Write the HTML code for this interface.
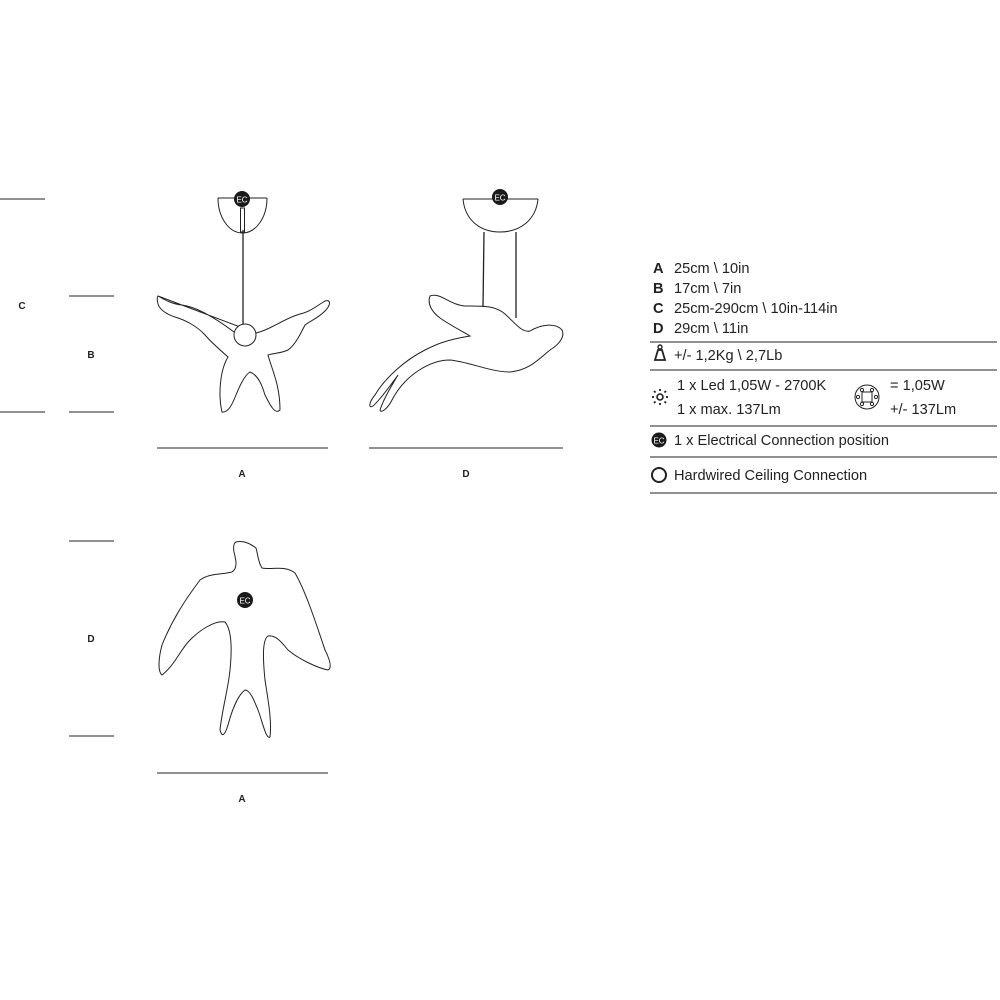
<!DOCTYPE html>
<html><head><meta charset="utf-8"><style>
html,body{margin:0;padding:0;background:#fff;}
svg{display:block;}
text{font-family:"Liberation Sans",sans-serif;fill:#222;}
.b{font-weight:bold;font-size:10px;}
.t{font-size:14.6px;}
</style></head><body>
<svg width="1000" height="1000" viewBox="0 0 1000 1000" xmlns="http://www.w3.org/2000/svg">
<g stroke="#222" stroke-width="1" fill="none">
<line x1="0" y1="199" x2="45" y2="199"/>
<line x1="0" y1="412" x2="45" y2="412"/>
<line x1="69" y1="296" x2="114" y2="296"/>
<line x1="69" y1="412" x2="114" y2="412"/>
<line x1="69" y1="541" x2="114" y2="541"/>
<line x1="69" y1="736" x2="114" y2="736"/>
<line x1="157" y1="448" x2="328" y2="448"/>
<line x1="369" y1="448" x2="563" y2="448"/>
<line x1="157" y1="773" x2="328" y2="773"/>

<!-- front view -->
<line x1="218" y1="198" x2="267" y2="198"/>
<path d="M218,198 A24.5,35 0 0 0 267,198"/>
<rect x="240.5" y="208" width="4" height="24" fill="#fff"/>
<line x1="243" y1="230" x2="243" y2="325" stroke-width="1.3"/>
<path d="M158,296 C165,300 172,304 182,305 C198,307 218,320 234,332 M256,333 C270,330 285,318 300,314 C310,312 318,305 325,301 C331,299 331,305 325,311 C318,318 312,320 305,325 C300,335 295,345 288,350 C282,353 275,353 268,355 C272,370 280,385 280,410 C275,415 270,405 265,395 C262,385 258,375 250,372 C245,375 240,385 236,395 C232,405 228,413 222,412 C218,395 220,370 228,357 C220,350 212,343 205,335 C197,326 185,320 175,317 C166,314 160,310 158,304 C157,300 157,297 158,296 Z"/>
<circle cx="245" cy="335" r="11" fill="#fff"/>

<!-- side view -->
<line x1="463" y1="199" x2="538" y2="199"/>
<path d="M463,199 C465,220 480,232 500,232 C520,232 536,220 538,199"/>
<line x1="484" y1="232" x2="483" y2="307" stroke-width="1.3"/>
<line x1="516" y1="232" x2="516" y2="318" stroke-width="1.3"/>
<path d="M430,296 C440,292 450,305 465,306 C480,306 495,305 505,314 C515,323 522,333 530,331 C540,325 555,322 562,330 C565,336 560,344 550,350 C540,358 530,370 510,372 C490,372 470,362 450,360 C430,360 405,375 392,400 C388,408 381,414 380,410 C384,398 392,385 398,375 C390,386 380,400 373,406 C368,409 369,402 375,395 C385,378 405,360 425,350 C435,345 445,340 470,336 C460,330 450,325 440,318 C432,312 427,304 430,296 Z"/>

<!-- top view -->
<path d="M236,542 C245,540 252,545 256,548 C258,555 258,562 262,568 C272,570 285,565 295,573 C305,590 315,620 325,650 C330,660 332,668 328,670 C318,668 300,660 288,650 C280,640 275,635 268,636 C262,640 263,660 265,680 C268,700 272,720 270,737 C266,740 262,720 258,710 C254,700 250,690 245,690 C238,695 232,710 228,725 C225,735 222,738 220,730 C222,710 228,690 230,670 C232,650 232,630 225,622 C215,620 200,630 190,640 C180,650 175,665 162,675 C158,672 158,660 162,645 C172,620 185,600 200,580 C210,573 220,575 232,572 C238,568 236,560 234,552 C233,546 234,543 236,542 Z"/>

<line x1="650" y1="342" x2="997" y2="342"/>
<line x1="650" y1="370" x2="997" y2="370"/>
<line x1="650" y1="426" x2="997" y2="426"/>
<line x1="650" y1="457" x2="997" y2="457"/>
<line x1="650" y1="493" x2="997" y2="493"/>
<circle cx="659" cy="475" r="7" stroke-width="2"/>
<path d="M655,360 L658,350 L662,350 L665,360 Z" stroke-width="1.8"/>
<circle cx="660" cy="347" r="2" stroke-width="1.4"/>
<circle cx="660" cy="397" r="3" stroke-width="1.6"/>
<g stroke-width="1.8">
<line x1="660" y1="389" x2="660" y2="391"/><line x1="660" y1="403" x2="660" y2="405"/>
<line x1="652" y1="397" x2="654" y2="397"/><line x1="666" y1="397" x2="668" y2="397"/>
<line x1="654" y1="391" x2="655.5" y2="392.5"/><line x1="666" y1="391" x2="664.5" y2="392.5"/>
<line x1="654" y1="403" x2="655.5" y2="401.5"/><line x1="666" y1="403" x2="664.5" y2="401.5"/>
</g>
<circle cx="867" cy="397" r="12"/>
<rect x="862" y="392" width="10" height="10"/>
<circle cx="862" cy="390" r="1.6"/><circle cx="872" cy="390" r="1.6"/>
<circle cx="862" cy="404" r="1.6"/><circle cx="872" cy="404" r="1.6"/>
<circle cx="858" cy="397" r="1.6"/><circle cx="876" cy="397" r="1.6"/>
</g>
<g>
<circle cx="242" cy="199" r="8" fill="#1a1a1a"/><text x="242" y="202.5" font-size="8" text-anchor="middle" style="fill:#fff">EC</text>
<circle cx="500" cy="197" r="8" fill="#1a1a1a"/><text x="500" y="200.5" font-size="8" text-anchor="middle" style="fill:#fff">EC</text>
<circle cx="245" cy="600" r="8" fill="#1a1a1a"/><text x="245" y="603.5" font-size="8" text-anchor="middle" style="fill:#fff">EC</text>
<circle cx="659" cy="440" r="7.5" fill="#1a1a1a"/><text x="659" y="443.5" font-size="8" text-anchor="middle" style="fill:#fff">EC</text>
</g>
<text class="b" x="22" y="309" text-anchor="middle">C</text>
<text class="b" x="91" y="358" text-anchor="middle">B</text>
<text class="b" x="91" y="642" text-anchor="middle">D</text>
<text class="b" x="242" y="477" text-anchor="middle">A</text>
<text class="b" x="466" y="477" text-anchor="middle">D</text>
<text class="b" x="242" y="802" text-anchor="middle">A</text>
<text class="t" x="653" y="273" font-weight="bold">A</text><text class="t" x="674" y="273">25cm \ 10in</text>
<text class="t" x="653" y="293" font-weight="bold">B</text><text class="t" x="674" y="293">17cm \ 7in</text>
<text class="t" x="653" y="313" font-weight="bold">C</text><text class="t" x="674" y="313">25cm-290cm \ 10in-114in</text>
<text class="t" x="653" y="333" font-weight="bold">D</text><text class="t" x="674" y="333">29cm \ 11in</text>
<text class="t" x="674" y="360">+/- 1,2Kg \ 2,7Lb</text>
<text class="t" x="677" y="390">1 x Led 1,05W - 2700K</text>
<text class="t" x="677" y="414">1 x max. 137Lm</text>
<text class="t" x="890" y="390">= 1,05W</text>
<text class="t" x="890" y="414">+/- 137Lm</text>
<text class="t" x="674" y="445">1 x Electrical Connection position</text>
<text class="t" x="674" y="480">Hardwired Ceiling Connection</text>
</svg>
</body></html>
